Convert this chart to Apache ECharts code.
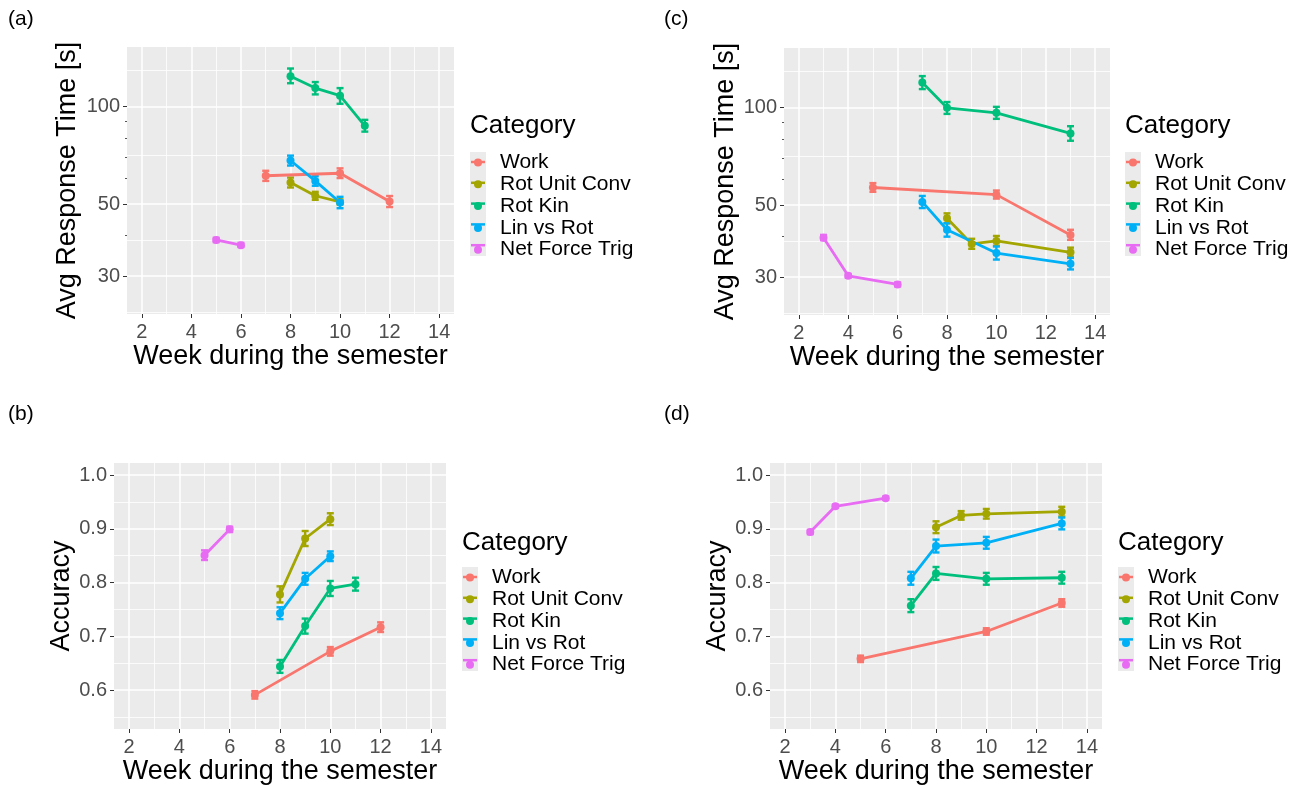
<!DOCTYPE html>
<html>
<head>
<meta charset="utf-8">
<script src="https://cdn.jsdelivr.net/npm/echarts@6/dist/echarts.min.js"></script>
<style>
  html, body { margin: 0; padding: 0; background: #ffffff; }
  #chart { width: 1302px; height: 787px; }
</style>
</head>
<body>
<div id="chart"></div>
<script>
// Question categories and their colours
const categories = ['Work', 'Rot Unit Conv', 'Rot Kin', 'Lin vs Rot', 'Net Force Trig'];
const categoryColors = ['#F8766D', '#A3A500', '#00BF7D', '#00B0F6', '#E76BF3'];

// Axis breaks
const weekTicks = [2, 4, 6, 8, 10, 12, 14];
const weekMinor = [3, 5, 7, 9, 11, 13];
const rtTicks = [30, 50, 100];
const rtMinorGrid = [23.2, 38.7, 70.7, 129.1];
const rtSmallTicks = [40, 60, 70, 80, 90];
const accTicks = [0.6, 0.7, 0.8, 0.9, 1.0];
const accMinor = [0.55, 0.65, 0.75, 0.85, 0.95];

// Rows: [week, mean, lower, upper]
// (a) average response time [s]
const rtA_work     = [[7, 61.2, 59.0, 63.4], [10, 62.3, 60.2, 64.5], [12, 51.0, 49.0, 53.0]];
const rtA_unitConv = [[8, 58.3, 56.3, 60.4], [9, 53.1, 51.6, 54.6], [10, 50.8, 49.9, 51.7]];
const rtA_rotKin   = [[8, 124, 118, 131], [9, 114, 109, 119], [10, 108, 102, 114], [11, 87.2, 83.7, 91.0]];
const rtA_linRot   = [[8, 68.2, 65.8, 70.6], [9, 59.0, 57.0, 61.0], [10, 50.6, 48.6, 52.7]];
const rtA_netForce = [[5, 38.8, 38.2, 39.4], [6, 37.4, 36.9, 38.0]];

// (b) accuracy
const accB_work     = [[7, 0.591, 0.584, 0.598], [10, 0.672, 0.664, 0.680], [12, 0.717, 0.708, 0.726]];
const accB_unitConv = [[8, 0.778, 0.763, 0.793], [9, 0.882, 0.868, 0.896], [10, 0.918, 0.907, 0.929]];
const accB_rotKin   = [[8, 0.644, 0.632, 0.656], [9, 0.719, 0.705, 0.733], [10, 0.789, 0.775, 0.803], [11, 0.797, 0.785, 0.809]];
const accB_linRot   = [[8, 0.743, 0.732, 0.754], [9, 0.807, 0.796, 0.818], [10, 0.849, 0.840, 0.858]];
const accB_netForce = [[5, 0.851, 0.842, 0.860], [6, 0.899, 0.894, 0.904]];

// (c) average response time [s]
const rtC_work     = [[5, 56.7, 55.0, 58.5], [10, 53.9, 52.4, 55.5], [13, 40.5, 39.1, 42.0]];
const rtC_unitConv = [[8, 45.6, 44.0, 47.2], [9, 38.0, 36.7, 39.4], [10, 38.8, 37.5, 40.2], [13, 35.8, 34.7, 37.0]];
const rtC_rotKin   = [[7, 119.4, 114, 125], [8, 99.8, 95.6, 104], [10, 96.3, 92.3, 100.5], [13, 83.2, 79.0, 87.6]];
const rtC_linRot   = [[7, 51.2, 49.0, 53.4], [8, 42.0, 40.0, 44.0], [10, 35.6, 34.0, 37.3], [13, 33.0, 31.7, 34.4]];
const rtC_netForce = [[3, 39.7, 39.0, 40.5], [4, 30.3, 29.9, 30.7], [6, 28.5, 28.1, 28.9]];

// (d) accuracy
const accD_work     = [[5, 0.658, 0.652, 0.664], [10, 0.709, 0.703, 0.715], [13, 0.762, 0.755, 0.769]];
const accD_unitConv = [[8, 0.903, 0.892, 0.914], [9, 0.925, 0.917, 0.933], [10, 0.928, 0.919, 0.937], [13, 0.932, 0.923, 0.941]];
const accD_rotKin   = [[7, 0.757, 0.745, 0.769], [8, 0.817, 0.805, 0.829], [10, 0.807, 0.796, 0.818], [13, 0.809, 0.798, 0.820]];
const accD_linRot   = [[7, 0.808, 0.796, 0.820], [8, 0.868, 0.856, 0.880], [10, 0.874, 0.863, 0.885], [13, 0.910, 0.899, 0.921]];
const accD_netForce = [[3, 0.894, 0.890, 0.898], [4, 0.942, 0.939, 0.945], [6, 0.957, 0.954, 0.960]];

const FONT = '"Liberation Sans", Arial, Helvetica, sans-serif';
const PANEL_BG = '#EBEBEB';
const TICK_TEXT = '#4D4D4D';
const TICK_LINE = '#333333';

// Panel layout (pixels) and content
const panels = [
  { tag: '(a)', tagPos: [8, 9], kind: 'rt', grid: { left: 127, top: 47, width: 327, height: 267 },
    rows: [rtA_work, rtA_unitConv, rtA_rotKin, rtA_linRot, rtA_netForce],
    legendLeft: 470, legendTitleTop: 113, legendTop: 152, yGap: 46 },
  { tag: '(b)', tagPos: [8, 404], kind: 'acc', grid: { left: 114, top: 463, width: 332, height: 266 },
    rows: [accB_work, accB_unitConv, accB_rotKin, accB_linRot, accB_netForce],
    legendLeft: 462, legendTitleTop: 530, legendTop: 567, yGap: 37 },
  { tag: '(c)', tagPos: [664, 9], kind: 'rt', grid: { left: 784, top: 48, width: 326, height: 267 },
    rows: [rtC_work, rtC_unitConv, rtC_rotKin, rtC_linRot, rtC_netForce],
    legendLeft: 1125, legendTitleTop: 113, legendTop: 152, yGap: 45 },
  { tag: '(d)', tagPos: [664, 404], kind: 'acc', grid: { left: 770, top: 463, width: 332, height: 266 },
    rows: [accD_work, accD_unitConv, accD_rotKin, accD_linRot, accD_netForce],
    legendLeft: 1118, legendTitleTop: 530, legendTop: 567, yGap: 37 }
];

const log10 = v => Math.log10(v);

const grids = [], xAxes = [], yAxes = [], series = [], titles = [], legends = [], graphics = [];

// Vertical error bar with caps, placed through the axes' own scales
function errorBarRenderer(color) {
  return function (params, api) {
    const x = api.value(0);
    const lo = api.coord([x, api.value(1)]);
    const hi = api.coord([x, api.value(2)]);
    const cap = 3.5;
    const style = { stroke: color, lineWidth: 2.4 };
    return {
      type: 'group',
      children: [
        { type: 'line', shape: { x1: lo[0], y1: lo[1], x2: hi[0], y2: hi[1] }, style },
        { type: 'line', shape: { x1: lo[0] - cap, y1: lo[1], x2: lo[0] + cap, y2: lo[1] }, style },
        { type: 'line', shape: { x1: hi[0] - cap, y1: hi[1], x2: hi[0] + cap, y2: hi[1] }, style }
      ]
    };
  };
}

panels.forEach((p, gi) => {
  const isRt = p.kind === 'rt';
  const fy = isRt ? log10 : (v => v);

  grids.push(Object.assign({ show: true, backgroundColor: PANEL_BG, borderWidth: 0 }, p.grid));

  // x axes: major (labels, ticks, grid) and minor grid
  const xMain = xAxes.length;
  xAxes.push({
    type: 'value', gridIndex: gi, position: 'bottom', min: 1.4, max: 14.6,
    name: 'Week during the semester', nameLocation: 'middle', nameGap: 23,
    nameTextStyle: { fontFamily: FONT, fontSize: 27, color: '#000' },
    axisLine: { show: false },
    axisTick: { show: true, length: 4, customValues: weekTicks, lineStyle: { color: TICK_LINE, width: 1 } },
    axisLabel: { customValues: weekTicks, margin: 8, fontFamily: FONT, fontSize: 20, color: TICK_TEXT },
    splitLine: { show: true, lineStyle: { color: '#FFFFFF', width: 1.5 } }
  });
  xAxes.push({
    type: 'value', gridIndex: gi, position: 'top', min: 1.4, max: 14.6,
    axisLine: { show: false }, axisLabel: { show: false },
    axisTick: { show: false, customValues: weekMinor },
    splitLine: { show: true, lineStyle: { color: '#FFFFFF', width: 0.8 } }
  });

  const yMin = isRt ? log10(22.94) : 0.5275;
  const yMax = isRt ? log10(152.6) : 1.0225;
  const majors = (isRt ? rtTicks : accTicks).map(fy);
  const minors = (isRt ? rtMinorGrid : accMinor).map(fy);

  const yMain = yAxes.length;
  yAxes.push({
    type: 'value', gridIndex: gi, position: 'left', min: yMin, max: yMax,
    name: isRt ? 'Avg Response Time [s]' : 'Accuracy', nameLocation: 'middle', nameGap: p.yGap,
    nameTextStyle: { fontFamily: FONT, fontSize: 27, color: '#000' },
    axisLine: { show: false },
    axisTick: { show: true, length: 4, customValues: majors, lineStyle: { color: TICK_LINE, width: 1 } },
    axisLabel: {
      customValues: majors, margin: 7, fontFamily: FONT, fontSize: 20, color: TICK_TEXT,
      formatter: v => isRt ? String(Math.round(Math.pow(10, v))) : v.toFixed(1)
    },
    splitLine: { show: true, lineStyle: { color: '#FFFFFF', width: 1.5 } }
  });
  yAxes.push({
    type: 'value', gridIndex: gi, position: 'right', min: yMin, max: yMax,
    axisLine: { show: false }, axisLabel: { show: false },
    axisTick: { show: false, customValues: minors },
    splitLine: { show: true, lineStyle: { color: '#FFFFFF', width: 0.8 } }
  });
  if (isRt) {
    yAxes.push({
      type: 'value', gridIndex: gi, position: 'left', offset: 0, min: yMin, max: yMax,
      axisLine: { show: false }, axisLabel: { show: false }, splitLine: { show: false },
      axisTick: { show: true, length: 2, customValues: rtSmallTicks.map(log10), lineStyle: { color: '#555555', width: 1 } }
    });
  }

  p.rows.forEach((rows, ci) => {
    const color = categoryColors[ci];
    series.push({
      type: 'line', name: categories[ci], xAxisIndex: xMain, yAxisIndex: yMain,
      data: rows.map(r => [r[0], fy(r[1])]),
      symbol: 'circle', symbolSize: 8, showSymbol: true,
      lineStyle: { color, width: 2.8 }, itemStyle: { color },
      z: 4, silent: true, animation: false
    });
    series.push({
      type: 'custom', name: categories[ci], xAxisIndex: xMain, yAxisIndex: yMain,
      renderItem: errorBarRenderer(color),
      encode: { x: 0, y: [1, 2] },
      data: rows.map(r => [r[0], fy(r[2]), fy(r[3])]),
      itemStyle: { color }, z: 3, silent: true
    });
  });

  // panel tag
  titles.push({
    text: p.tag, left: p.tagPos[0], top: p.tagPos[1], padding: 0,
    textStyle: { fontFamily: FONT, fontSize: 21, fontWeight: 'normal', color: '#000' }
  });
  // legend title
  titles.push({
    text: 'Category', left: p.legendLeft, top: p.legendTitleTop, padding: 0,
    textStyle: { fontFamily: FONT, fontSize: 26, fontWeight: 'normal', color: '#000' }
  });
  // legend key background
  graphics.push({
    type: 'rect', left: p.legendLeft, top: p.legendTop, z: 0,
    shape: { width: 16, height: 104 }, style: { fill: '#EBEBEB' }
  });
  legends.push({
    data: categories.map(n => ({ name: n, icon: 'circle' })),
    orient: 'vertical', left: p.legendLeft + 4, top: p.legendTop, padding: 0,
    itemWidth: 8, itemHeight: 8, itemGap: 0.8, selectedMode: false,
    textStyle: { fontFamily: FONT, fontSize: 21, color: '#000', lineHeight: 20, padding: [0, 0, 0, 13] }
  });
  // short line through each legend key
  categories.forEach((n, ci) => {
    graphics.push({
      type: 'line', z: 1,
      shape: { x1: p.legendLeft + 1, y1: p.legendTop + 10 + ci * 20.8, x2: p.legendLeft + 15, y2: p.legendTop + 10 + ci * 20.8 },
      style: { stroke: categoryColors[ci], lineWidth: 2.5 }
    });
  });
});

const chart = echarts.init(document.getElementById('chart'), null, { renderer: 'canvas' });
chart.setOption({
  backgroundColor: '#FFFFFF',
  animation: false,
  title: titles,
  legend: legends,
  grid: grids,
  xAxis: xAxes,
  yAxis: yAxes,
  graphic: graphics,
  series: series
});
</script>
</body>
</html>
